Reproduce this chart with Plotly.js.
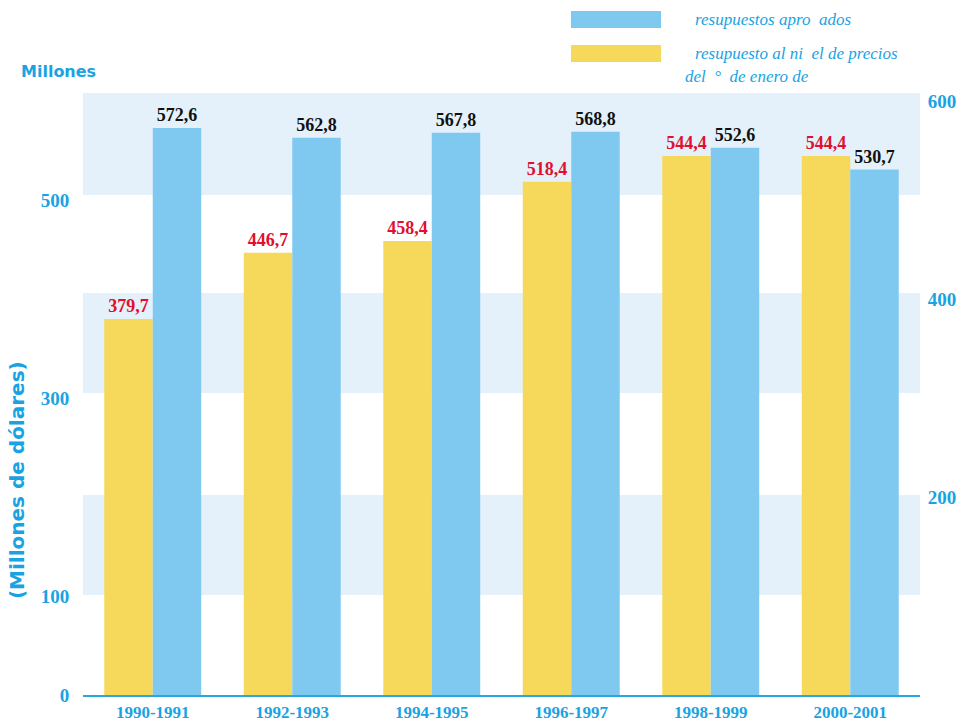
<!DOCTYPE html>
<html><head><meta charset="utf-8">
<script src="https://cdn.plot.ly/plotly-3.0.1.min.js"></script>
<style>body{margin:0;background:#fff}#c{width:961px;height:725px}</style>
</head><body><div id="c"></div>
<script>
const periods = ['1990-1991','1992-1993','1994-1995','1996-1997','1998-1999','2000-2001'];
const preciosValues = [379.7, 446.7, 458.4, 518.4, 544.4, 544.4];
const aprobadosValues = [572.6, 562.8, 567.8, 568.8, 552.6, 530.7];
const leftTicks = [0, 100, 300, 500];
const rightTicks = [200, 400, 600];
const legendAprobados = 'resupuestos apro  ados';
const legendPrecios1 = 'resupuesto al ni  el de precios';
const legendPrecios2 = 'del  °  de enero de';

const cyan = '#19a3e3';
const serif = 'Liberation Serif, Times New Roman, serif';
const sans = 'DejaVu Sans, Verdana, sans-serif';
const yTop = 608;
const bands = [[101,202],[305,406],[505,yTop]];

const traces = [
  {type:'bar', x:periods, y:preciosValues, name:'precios',
   marker:{color:'#f6d95a'}, texttemplate:'%{y:.1f}', textposition:'outside',
   textfont:{family:serif, size:18, color:'#e0102f', weight:'bold'}, cliponaxis:false, hoverinfo:'none'},
  {type:'bar', x:periods, y:aprobadosValues, name:'aprobados',
   marker:{color:'#7fc9f1'}, texttemplate:'%{y:.1f}', textposition:'outside',
   textfont:{family:serif, size:18, color:'#111', weight:'bold'}, cliponaxis:false, hoverinfo:'none'},
  {type:'scatter', x:[periods[0]], y:[0], yaxis:'y2', mode:'markers', marker:{opacity:0}, showlegend:false, hoverinfo:'none'}
];

const shapes = bands.map(b => ({type:'rect', xref:'paper', yref:'y', x0:0, x1:1, y0:b[0], y1:b[1],
  fillcolor:'#e4f1fb', line:{width:0}, layer:'below'}));
shapes.push({type:'rect', xref:'paper', yref:'paper', x0:0.583, x1:0.6906, y0:1.108, y1:1.1362, fillcolor:'#7fc9f1', line:{width:0}});
shapes.push({type:'rect', xref:'paper', yref:'paper', x0:0.583, x1:0.6906, y0:1.0515, y1:1.0797, fillcolor:'#f6d95a', line:{width:0}});

const layout = {
  width:961, height:725,
  margin:{l:83, r:41, t:93, b:30},
  paper_bgcolor:'#fff', plot_bgcolor:'rgba(0,0,0,0)',
  separators:',.',
  barmode:'group', bargap:0.305, bargroupgap:0,
  showlegend:false,
  xaxis:{type:'category', range:[-0.5,5.5], showgrid:false, zeroline:false,
    showline:true, linecolor:'#29a8e0', linewidth:2,
    ticks:'outside', ticklen:1, tickcolor:'rgba(0,0,0,0)',
    tickfont:{family:serif, size:17, color:cyan, weight:'bold'}},
  yaxis:{range:[0,yTop], tickvals:leftTicks, showgrid:false, zeroline:false, showline:false,
    ticks:'outside', ticklen:9, tickcolor:'rgba(0,0,0,0)',
    tickfont:{family:serif, size:19, color:cyan, weight:'bold'}},
  yaxis2:{overlaying:'y', side:'right', range:[0,yTop], tickvals:rightTicks, showgrid:false, zeroline:false, showline:false,
    ticks:'outside', ticklen:3, tickcolor:'rgba(0,0,0,0)',
    tickfont:{family:serif, size:19, color:cyan, weight:'bold'}},
  shapes:shapes,
  annotations:[
    {xref:'paper', yref:'paper', x:-0.0789, y:0.357, xanchor:'center', yanchor:'middle', text:'(Millones de dólares)', textangle:-90, showarrow:false,
     font:{family:sans, size:20, color:cyan, weight:'bold'}},
    {xref:'paper', yref:'paper', x:-0.077, y:1.0349, xanchor:'left', yanchor:'middle', text:'Millones', showarrow:false,
     font:{family:sans, size:16, color:cyan, weight:'bold'}},
    {xref:'paper', yref:'paper', x:0.7288, y:1.1213, xanchor:'left', yanchor:'middle', text:legendAprobados, showarrow:false,
     font:{family:serif, size:17, color:cyan, style:'italic'}},
    {xref:'paper', yref:'paper', x:0.7288, y:1.0648, xanchor:'left', yanchor:'middle', text:legendPrecios1, showarrow:false,
     font:{family:serif, size:17, color:cyan, style:'italic'}},
    {xref:'paper', yref:'paper', x:0.7168, y:1.0266, xanchor:'left', yanchor:'middle', text:legendPrecios2, showarrow:false,
     font:{family:serif, size:17, color:cyan, style:'italic'}}
  ]
};
Plotly.newPlot('c', traces, layout, {staticPlot:true, displayModeBar:false});
</script></body></html>
